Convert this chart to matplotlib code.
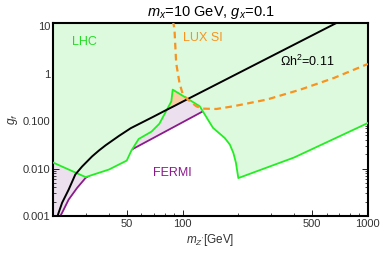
import matplotlib
matplotlib.use("Agg")
import matplotlib.pyplot as plt
from matplotlib.ticker import FixedLocator, LogLocator, NullFormatter

plt.rcParams['font.family'] = ['Liberation Sans', 'DejaVu Sans']
plt.rcParams['mathtext.fontset'] = 'custom'
plt.rcParams['mathtext.rm'] = 'Liberation Sans'
plt.rcParams['mathtext.it'] = 'Liberation Sans:italic'

# LHC exclusion boundary (excluded above)
lhc_m = [20, 30, 40, 50, 53, 58, 68, 75, 87, 88.5, 104.7, 123.7, 146, 169, 180, 188, 194, 200, 400, 1000]
lhc_g = [0.0134, 0.0066, 0.0095, 0.0147, 0.024, 0.042, 0.060, 0.088, 0.26, 0.46, 0.308, 0.206, 0.072,
         0.044, 0.032, 0.0214, 0.0134, 0.0063, 0.0171, 0.091]

# FERMI bound
fermi_m = [21.9, 22.4, 24.3, 27.0, 30.0, 33.3, 40, 45, 52.6, 129]
fermi_g = [0.001, 0.00117, 0.00222, 0.00392, 0.00637, 0.00813, 0.0128, 0.0172, 0.0245, 0.161]

# relic density Omega h^2 = 0.11
relic_m = [21.0, 21.3, 22.4, 24.3, 26.4, 28.7, 32.5, 35.4, 38.5, 45.5, 52.6, 70, 80, 90, 100, 110, 300, 700]
relic_g = [0.0008, 0.00108, 0.0019, 0.0036, 0.0075, 0.011, 0.018, 0.024, 0.031, 0.049, 0.071,
           0.125, 0.164, 0.207, 0.256, 0.31, 2.3, 12.5]

# LUX SI bound
lux_m = [88.4, 89.5, 90.5, 92.4, 96.3, 100.4, 106.9, 118.7, 128.9, 152.5, 187.7, 285, 432, 656, 1000]
lux_g = [13, 11, 8.4, 1.68, 0.637, 0.361, 0.284, 0.205, 0.183, 0.180, 0.205, 0.284, 0.46, 0.81, 1.6]

xmin, xmax = 20, 1000
ymin, ymax = 0.001, 11.6

fig = plt.figure(figsize=(3.82, 2.54), dpi=100)
ax = fig.add_axes([0.1387, 0.1496, 0.963 - 0.1387, 0.909 - 0.1496])
ax.set_xscale('log')
ax.set_yscale('log')

# FERMI shaded region: between the FERMI line and the LHC line
px = [xmin] + fermi_m + lhc_m[:11][::-1]
py = [ymin] + fermi_g + lhc_g[:11][::-1]
ax.fill(px, py, color='#ece0ef', lw=0, zorder=1)

# orange patch: above relic line, inside the LHC peak
sel_r = [i for i, m in enumerate(relic_m) if 80 <= m <= 110]
sel_l = [i for i, m in enumerate(lhc_m) if 75 <= m <= 105][::-1]
ox = [relic_m[i] for i in sel_r] + [lhc_m[i] for i in sel_l]
oy = [relic_g[i] for i in sel_r] + [lhc_g[i] for i in sel_l]
ax.fill(ox, oy, color='#fbcfa3', lw=0, zorder=1.5)

# LHC shaded region
ax.fill(lhc_m + [xmax, xmin], lhc_g + [ymax * 2, ymax * 2], color='#defade', lw=0, zorder=2)

ax.plot(fermi_m, fermi_g, color='#8b1a8b', lw=1.3, zorder=1.8)
ax.plot(lhc_m, lhc_g, color='#22ee22', lw=1.3, zorder=4)
ax.plot(relic_m, relic_g, color='black', lw=1.4, zorder=5)
ax.plot(lux_m, lux_g, color='#f7931e', lw=1.6, dashes=(3, 2), zorder=5)

ax.text(25.2, 4.7, 'LHC', color='#22dd22', fontsize=9, va='center')
ax.text(100, 5.7, 'LUX SI', color='#f7931e', fontsize=9, va='center')
ax.text(336, 1.79, r'$\Omega$h$^2$=0.11', color='black', fontsize=9, va='center')
ax.text(69.6, 0.0081, 'FERMI', color='#8b1a8b', fontsize=9, va='center')

ax.set_xlim(xmin, xmax)
ax.set_ylim(ymin, ymax)

ax.xaxis.set_major_locator(FixedLocator([50, 100, 500, 1000]))
ax.set_xticklabels(['50', '100', '500', '1000'])
ax.xaxis.set_minor_locator(FixedLocator([20, 30, 40, 60, 70, 80, 90, 200, 300, 400, 600, 700, 800, 900]))
ax.xaxis.set_minor_formatter(NullFormatter())
ax.yaxis.set_major_locator(FixedLocator([0.001, 0.01, 0.1, 1, 10]))
ax.set_yticklabels(['0.001', '0.010', '0.100', '1', '10'])
ax.yaxis.set_minor_locator(LogLocator(base=10, subs=range(2, 10)))
ax.yaxis.set_minor_formatter(NullFormatter())

ax.tick_params(which='both', direction='in', top=True, right=True, labelsize=8, colors='black',
               labelcolor='#333333', pad=2)
ax.tick_params(which='major', length=4, width=0.6)
ax.tick_params(which='minor', length=2, width=0.5)
for s in ax.spines.values():
    s.set_linewidth(1.5)

ax.set_title(r'$m_x$=10 GeV, $g_x$=0.1', fontsize=10.5, pad=5)
ax.set_xlabel(r"$m_{Z'}$[GeV]", fontsize=8.5, labelpad=2, color='#333333')
ax.set_ylabel(r'$g_f$', fontsize=8.5, labelpad=2, color='#333333')

fig.savefig('out.png', dpi=100)
